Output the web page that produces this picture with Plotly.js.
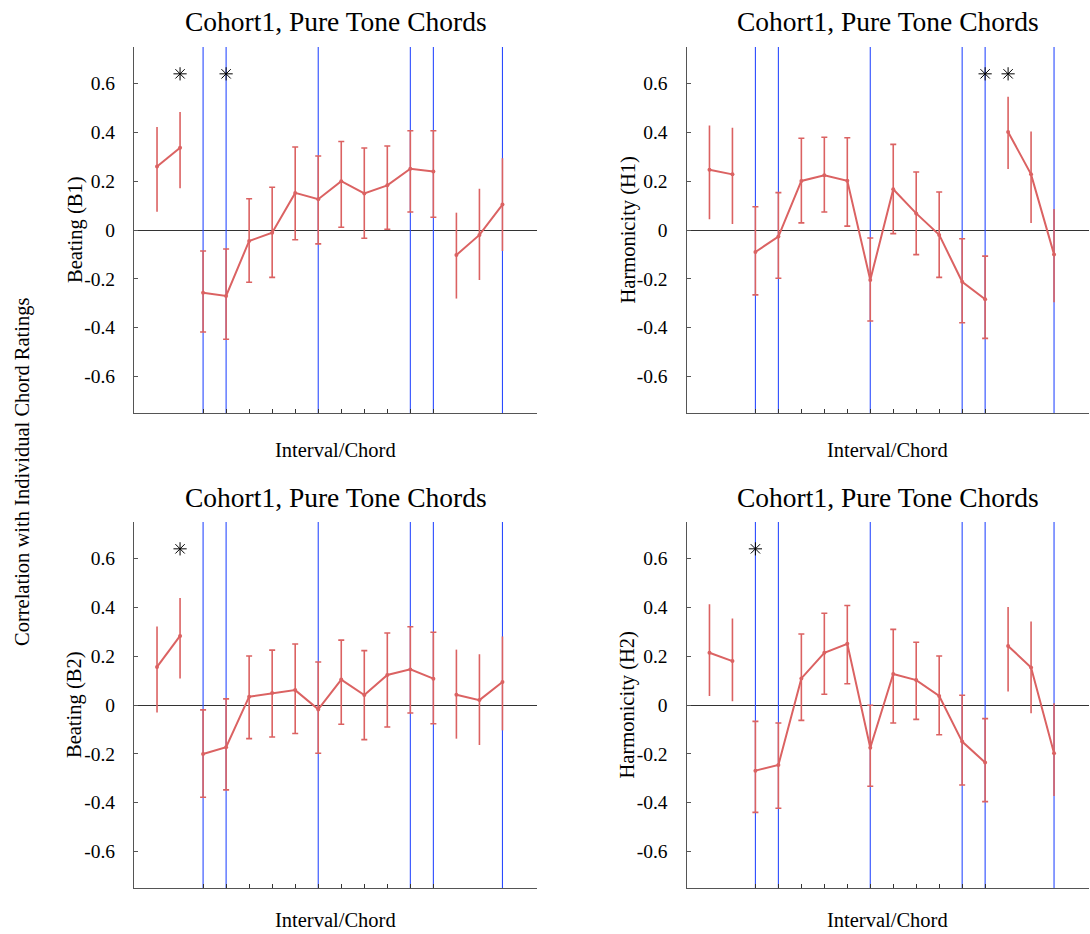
<!DOCTYPE html>
<html><head><meta charset="utf-8">
<script src="https://cdn.plot.ly/plotly-3.0.1.min.js"></script>
<style>body{margin:0;background:#fff}#chart{width:1090px;height:934px}</style>
</head><body><div id="chart"></div>
<script>
// ---- data ----
const positions = [1,2,3,4,5,6,7,8,9,10,11,12,13,14,15,16];
const chordTicks = [3,4,5,6,7,8,9,10,11,12,13];
const blueLines = [3,4,8,12,13,16];
const groupBreaks = [0, 2, 13, 16];   // index ranges of connected groups
const yTickVals = [-0.6,-0.4,-0.2,0,0.2,0.4,0.6];
const yTickText = ["-0.6","-0.4","-0.2","0","0.2","0.4","0.6"];
const yRange = [-0.75, 0.75];
const starY = 0.64;

const panelTitles = ["Cohort1, Pure Tone Chords","Cohort1, Pure Tone Chords","Cohort1, Pure Tone Chords","Cohort1, Pure Tone Chords"];
const yTitles = ["Beating (B1)","Harmonicity (H1)","Beating (B2)","Harmonicity (H2)"];
const xTitle = "Interval/Chord";
const sharedYTitle = "Correlation with Individual Chord Ratings";

const b1Mean  = [0.26,0.337,-0.257,-0.27,-0.045,-0.011,0.152,0.126,0.2,0.15,0.183,0.251,0.24,-0.102,-0.02,0.104];
const b1Upper = [0.422,0.484,-0.086,-0.078,0.128,0.175,0.34,0.303,0.363,0.336,0.344,0.407,0.407,0.071,0.169,0.294];
const b1Lower = [0.075,0.171,-0.418,-0.448,-0.214,-0.194,-0.04,-0.057,0.011,-0.034,0.003,0.074,0.052,-0.281,-0.205,-0.086];
const b1Stars = [2,4];

const h1Mean  = [0.247,0.228,-0.09,-0.027,0.201,0.224,0.202,-0.205,0.167,0.068,-0.02,-0.212,-0.284,0.402,0.228,-0.1];
const h1Upper = [0.428,0.419,0.095,0.153,0.376,0.38,0.378,-0.033,0.351,0.238,0.156,-0.036,-0.107,0.546,0.404,0.086];
const h1Lower = [0.044,0.025,-0.266,-0.198,0.029,0.074,0.016,-0.373,-0.015,-0.101,-0.194,-0.38,-0.444,0.25,0.029,-0.296];
const h1Stars = [13,14];

const b2Mean  = [0.156,0.283,-0.201,-0.173,0.034,0.049,0.061,-0.018,0.104,0.041,0.123,0.146,0.108,0.042,0.02,0.094];
const b2Upper = [0.322,0.439,-0.02,0.025,0.201,0.225,0.25,0.176,0.266,0.223,0.295,0.321,0.298,0.227,0.208,0.281];
const b2Lower = [-0.031,0.109,-0.378,-0.348,-0.138,-0.131,-0.117,-0.198,-0.079,-0.142,-0.09,-0.033,-0.077,-0.138,-0.164,-0.104];
const b2Stars = [2];

const h2Mean  = [0.214,0.18,-0.269,-0.246,0.109,0.214,0.251,-0.175,0.127,0.102,0.037,-0.15,-0.236,0.242,0.154,-0.198];
const h2Upper = [0.413,0.355,-0.067,-0.074,0.291,0.376,0.408,-0.001,0.31,0.257,0.201,0.04,-0.056,0.402,0.342,0.007];
const h2Lower = [0.037,0.015,-0.44,-0.423,-0.063,0.044,0.087,-0.333,-0.074,-0.059,-0.122,-0.328,-0.396,0.055,-0.034,-0.373];
const h2Stars = [3];

// ---- styling / layout ----
const W = 1090, H = 934;
const RED = '#db6262', BLUE = '#2a4bff', FONT = 'Liberation Serif, Times New Roman, serif';
const panels = [
  {mean:b1Mean, up:b1Upper, lo:b1Lower, stars:b1Stars, px:[134,537], py:[47,413]},
  {mean:h1Mean, up:h1Upper, lo:h1Lower, stars:h1Stars, px:[686.5,1088.5], py:[47,413]},
  {mean:b2Mean, up:b2Upper, lo:b2Lower, stars:b2Stars, px:[134,537], py:[522,888]},
  {mean:h2Mean, up:h2Upper, lo:h2Lower, stars:h2Stars, px:[686.5,1088.5], py:[522,888]}
];

const traces = [];
const layout = {
  width: W, height: H, margin:{l:0,r:0,t:0,b:0},
  paper_bgcolor:'#fff', plot_bgcolor:'#fff', showlegend:false,
  font:{family:FONT, color:'#000'},
  annotations:[]
};

panels.forEach((p, i) => {
  const n = i + 1;
  const xa = 'x' + n, ya = 'y' + n;
  // blue vertical reference lines (drawn first, beneath the data)
  blueLines.forEach(v => traces.push({
    type:'scatter', mode:'lines', x:[v, v], y: yRange, xaxis: xa, yaxis: ya,
    line:{color:BLUE, width:1.1}, hoverinfo:'skip'
  }));
  for (let g = 0; g < groupBreaks.length - 1; g++) {
    const a = groupBreaks[g], b = groupBreaks[g+1];
    const xs = positions.slice(a, b), ys = p.mean.slice(a, b);
    traces.push({
      type:'scatter', mode:'lines+markers', x: xs, y: ys, xaxis: xa, yaxis: ya,
      line:{color:RED, width:2}, marker:{color:RED, size:4},
      error_y:{type:'data', symmetric:false,
        array: ys.map((v,k) => p.up[a+k] - v),
        arrayminus: ys.map((v,k) => v - p.lo[a+k]),
        color:RED, thickness:1.6, width: g === 1 ? 3 : 0},
      hoverinfo:'skip'
    });
  }
  traces.push({
    type:'scatter', mode:'markers', x: p.stars, y: p.stars.map(() => starY), xaxis: xa, yaxis: ya,
    marker:{symbol:'asterisk-open', size:11, color:'#000', line:{color:'#000', width:1}}, hoverinfo:'skip'
  });
  const xd = [p.px[0]/W, p.px[1]/W];
  const yd = [1 - p.py[1]/H, 1 - p.py[0]/H];
  layout['xaxis' + n] = {
    domain: xd, anchor: ya, range:[0, 17.5], showgrid:false, zeroline:false,
    showline:true, linecolor:'#555', linewidth:1,
    tickmode:'array', tickvals: chordTicks, ticktext: chordTicks.map(() => ''),
    ticks:'inside', ticklen:4, tickcolor:'#333', fixedrange:true
  };
  layout['yaxis' + n] = {
    domain: yd, anchor: xa, range: yRange, showgrid:false,
    zeroline:true, zerolinecolor:'#333', zerolinewidth:1,
    showline:true, linecolor:'#555', linewidth:1,
    tickmode:'array', tickvals: yTickVals, ticktext: yTickText,
    ticks:'inside', ticklen:4, tickcolor:'#555',
    tickfont:{family:FONT, size:19.5, color:'#000'}, ticklabelstandoff: 14, fixedrange:true
  };
  const cx = (xd[0] + xd[1]) / 2;
  layout.annotations.push({
    text: panelTitles[i], xref:'paper', yref:'paper', x: cx, y: 1 - (p.py[0] - 25)/H,
    xanchor:'center', yanchor:'middle', showarrow:false, font:{family:FONT, size:27.5, color:'#000'}
  });
  layout.annotations.push({
    text: yTitles[i], xref:'paper', yref:'paper', x: (p.px[0] - 59)/W, y: (yd[0] + yd[1])/2,
    xanchor:'center', yanchor:'middle', textangle:-90, showarrow:false, font:{family:FONT, size:20.5, color:'#000'}
  });
  const xtY = Math.min(p.py[1] + 37, H - 14);
  layout.annotations.push({
    text: xTitle, xref:'paper', yref:'paper', x: cx, y: 1 - xtY/H,
    xanchor:'center', yanchor:'middle', showarrow:false, font:{family:FONT, size:20.5, color:'#000'}
  });
});
layout.annotations.push({
  text: sharedYTitle, xref:'paper', yref:'paper', x: 22/W, y: 1 - 472/H,
  xanchor:'center', yanchor:'middle', textangle:-90, showarrow:false, font:{family:FONT, size:20.5, color:'#000'}
});

Plotly.newPlot('chart', traces, layout, {displayModeBar:false, staticPlot:true});
</script>
</body></html>
